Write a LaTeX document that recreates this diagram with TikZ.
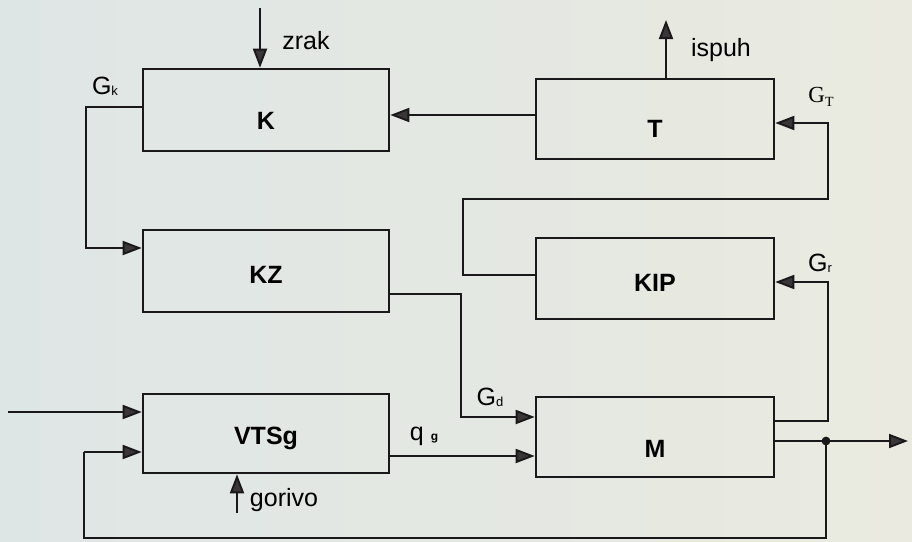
\documentclass[tikz,border=0pt]{standalone}
\usepackage{fontspec}
\setmainfont{Liberation Sans}
\newfontfamily\gtserif{Liberation Serif}
\usetikzlibrary{arrows.meta}
\definecolor{bgl}{RGB}{222,230,229}
\definecolor{bgr}{RGB}{234,234,224}
\definecolor{ink}{RGB}{26,24,26}
\definecolor{tipc}{RGB}{58,54,56}
\begin{document}
\begin{tikzpicture}[x=1pt,y=-1pt,
  blk/.style={draw=ink, line width=2.6pt, minimum width=246pt, minimum height=82pt, inner sep=0pt},
  rblk/.style={blk, minimum width=238pt, minimum height=80pt},
  blktext/.style={font=\fontsize{25}{28}\selectfont\bfseries, inner sep=0pt},
  wire/.style={draw=ink, line width=1.9pt},
  arr/.style={wire, -{Triangle[length=19pt,width=14pt,fill=tipc]}},
  lbl/.style={font=\fontsize{25}{28}\selectfont, inner sep=0pt}
]
\shade[left color=bgl, right color=bgr] (0,0) rectangle (912,541);
\useasboundingbox (0,0) rectangle (912,541);

% blocks
\node[blk, label={[blktext, yshift=-11pt]center:K}] (K) at (266,110) {};
\node[rblk, label={[blktext, yshift=-10pt]center:T}] (T) at (655,119) {};
\node[blk, label={[blktext, yshift=-4pt]center:KZ}] (KZ) at (266,271) {};
\node[rblk, minimum height=81pt, label={[blktext, yshift=-4pt]center:KIP}] (KIP) at (655,278.5) {};
\node[blk, minimum height=79pt, label={[blktext, yshift=-5pt]center:VTSg}] (VTSg) at (266,433.5) {};
\node[rblk, label={[blktext, yshift=-12pt]center:M}] (M) at (655,437) {};

% free ends and bends
\coordinate (zrakIn) at (260,8);
\coordinate (ispuhOut) at (666,20);
\coordinate (gkX) at (86,0);
\coordinate (gdX) at (461,0);
\coordinate (gtX) at (463,0);
\coordinate (gtY) at (0,199);
\coordinate (rightX) at (828,0);
\coordinate (dot) at (826,441);
\coordinate (outEnd) at (908,441);
\coordinate (fbY) at (0,538);
\coordinate (fbX) at (84,0);
\coordinate (inStart) at (8,412);
\coordinate (gorivoIn) at (237,513);

% connectors
\draw[arr] (zrakIn) -- (zrakIn |- K.north);
\draw[arr] (ispuhOut |- T.north) -- (ispuhOut);
\draw[arr] (T.west |- 0,115) -- (K.east |- 0,115);
\draw[arr] (K.west |- 0,107) -- (gkX |- 0,107) -- (gkX |- 0,248) -- (KZ.west |- 0,248);
\draw[arr] (KZ.east |- 0,294) -- (gdX |- 0,294) -- (gdX |- 0,417) -- (M.west |- 0,417);
\draw[arr] (KIP.west |- 0,275) -- (gtX |- 0,275) -- (gtX |- gtY) -- (rightX |- gtY) -- (rightX |- 0,123) -- (T.east |- 0,123);
\draw[arr] (M.east |- 0,421) -- (rightX |- 0,421) -- (rightX |- 0,282) -- (KIP.east |- 0,282);
\draw[arr] (M.east |- dot) -- (outEnd);
\draw[wire] (dot) -- (dot |- fbY) -- (fbX |- fbY) -- (fbX |- 0,452);
\draw[arr] (fbX |- 0,452) -- (VTSg.west |- 0,452);
\draw[arr] (inStart) -- (VTSg.west |- inStart);
\draw[arr] (gorivoIn) -- (gorivoIn |- VTSg.south);
\draw[arr] (VTSg.east |- 0,456) -- (M.west |- 0,456);
\fill[ink] (dot) circle (4.4pt);

% labels
\node[lbl] (lzrak) at (306,41) {zrak};
\node[lbl] (lispuh) at (721,50) {ispuh};
\node[lbl] (lgorivo) at (284,500) {gorivo};
\node[lbl] (lgk) at (105,86) {G\raisebox{-1pt}{\fontsize{13}{14}\selectfont k}};
\node[lbl, font=\fontsize{23}{26}\gtserif] (lgt) at (821,97) {G\raisebox{-4pt}{\fontsize{14}{15}\selectfont T}};
\node[lbl] (lgr) at (820,263) {G\raisebox{-1pt}{\fontsize{13}{14}\selectfont r}};
\node[lbl] (lgd) at (490,397) {G\raisebox{-1pt}{\fontsize{13}{14}\selectfont d}};
\node[lbl] (lqg) at (424,436) {q\hspace{7pt}{\fontsize{12}{14}\selectfont\bfseries g}};
\end{tikzpicture}
\end{document}
